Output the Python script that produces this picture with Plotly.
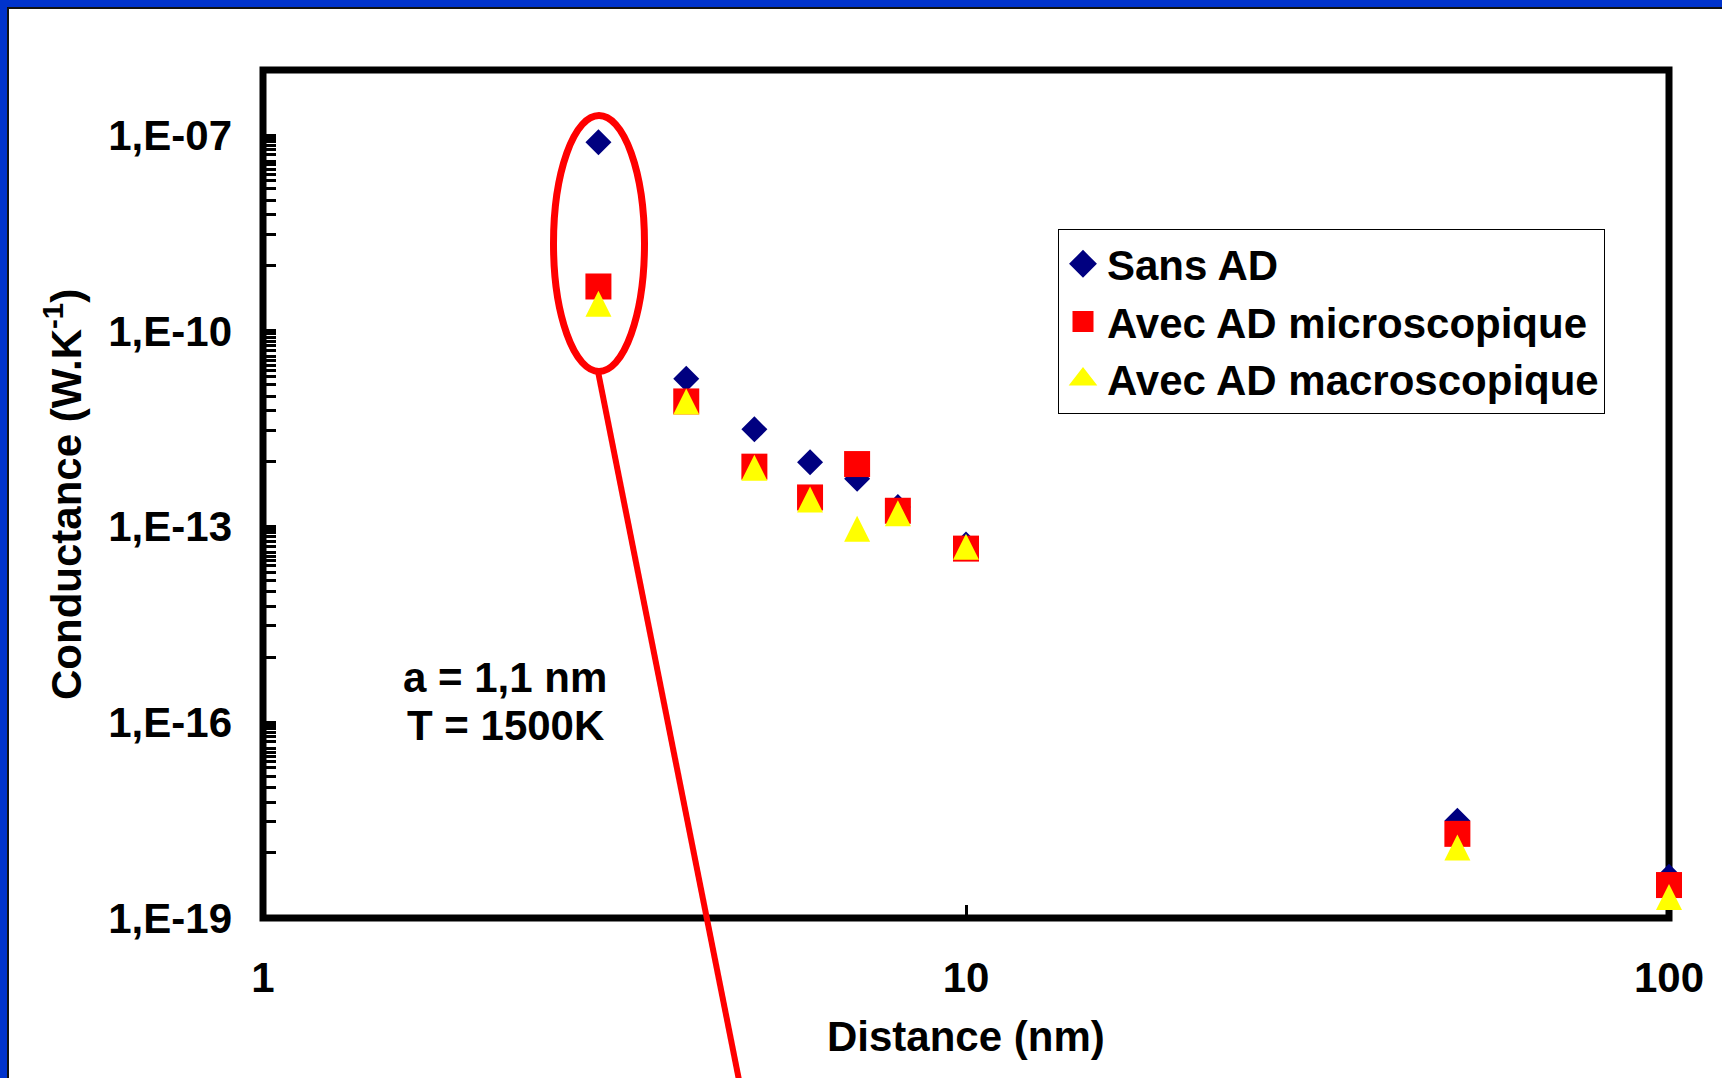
import plotly.graph_objects as go

# ---------------- data ----------------
distance_nm = [3, 4, 5, 6, 7, 8, 10, 50, 100]
sans_ad = [7.8e-8, 1.85e-11, 3.1e-12, 9.7e-13, 5.4e-13, 2.0e-13, 5.3e-14, 3.1e-18, 4.3e-19]
avec_ad_micro = [4.8e-10, 8.3e-12, 8.3e-13, 2.8e-13, 9.1e-13, 1.75e-13, 4.6e-14, 1.95e-18, 3.2e-19]
avec_ad_macro = [2.6e-10, 8.3e-12, 8.0e-13, 2.6e-13, 9.3e-14, 1.6e-13, 4.9e-14, 1.2e-18, 2.1e-19]

series_names = ["Sans AD", "Avec AD microscopique", "Avec AD macroscopique"]

x_tick_vals = [1, 10, 100]
x_tick_text = ["1", "10", "100"]
y_tick_vals = [1e-19, 1e-16, 1e-13, 1e-10, 1e-7]
y_tick_text = ["1,E-19", "1,E-16", "1,E-13", "1,E-10", "1,E-07"]
y_major_decades = [-19, -16, -13, -10]
y_minor_multipliers = [10, 30, 60, 100, 150, 200, 250, 300, 350, 400, 500, 600, 700, 800, 900]

annotation_lines = ["a = 1,1 nm", "T = 1500K"]
x_title = "Distance (nm)"
y_title = "Conductance (W.K<sup>-1</sup>)"

# ---------------- layout helpers ----------------
W, H = 1722, 1078
L, R, T, B = 263, 1669, 70, 918


def px(X):
    return (X - L) / (R - L)


def py(Y):
    return (B - Y) / (B - T)


FONT = "Liberation Sans, Arial, sans-serif"
NAVY = "#000080"
RED = "#FF0000"
YELLOW = "#FFFF00"
BLUE_BORDER = "#0033CC"

minor_vals = [m * 10.0 ** d for d in y_major_decades for m in y_minor_multipliers]

fig = go.Figure()
# data markers (drawn in this order: diamonds, squares, triangles on top)
fig.add_trace(go.Scatter(
    x=distance_nm, y=sans_ad, mode="markers", name=series_names[0], cliponaxis=False,
    showlegend=False, legendgroup="a",
    marker=dict(symbol="diamond", size=20, color=NAVY, line=dict(width=0)),
))
fig.add_trace(go.Scatter(
    x=distance_nm, y=avec_ad_micro, mode="markers", name=series_names[1], cliponaxis=False,
    showlegend=False, legendgroup="b",
    marker=dict(symbol="square", size=26, color=RED, line=dict(width=0)),
))
fig.add_trace(go.Scatter(
    x=distance_nm, y=avec_ad_macro, mode="markers", name=series_names[2], cliponaxis=False,
    showlegend=False, legendgroup="c",
    marker=dict(symbol="arrow-down", angle=180, standoff=13, size=26, color=YELLOW,
                line=dict(width=0)),
))

# legend entries (same series, symbols enlarged with a same-colour outline)
legend_symbols = ["diamond", "square", "triangle-up"]
legend_colors = [NAVY, RED, YELLOW]
for name, sym, col, grp in zip(series_names, legend_symbols, legend_colors, ["a", "b", "c"]):
    fig.add_trace(go.Scatter(
        x=[None], y=[None], mode="markers", name=name, legendgroup=grp, showlegend=True,
        marker=dict(symbol=sym, size=16, color=col, line=dict(width=5, color=col)),
    ))

shapes = [
    # plot frame
    dict(type="rect", xref="paper", yref="paper", x0=0, x1=1, y0=0, y1=1,
         line=dict(color="black", width=7), fillcolor="rgba(0,0,0,0)", layer="below"),
    # blue slide border (top & left)
    dict(type="rect", xref="paper", yref="paper", x0=px(0), x1=px(W), y0=py(0), y1=py(7),
         line=dict(width=0), fillcolor=BLUE_BORDER, layer="above"),
    dict(type="rect", xref="paper", yref="paper", x0=px(0), x1=px(7), y0=py(0), y1=py(H),
         line=dict(width=0), fillcolor=BLUE_BORDER, layer="above"),
    dict(type="line", xref="paper", yref="paper", x0=px(7), x1=px(W), y0=py(8), y1=py(8),
         line=dict(color="#111111", width=2), layer="above"),
    dict(type="line", xref="paper", yref="paper", x0=px(8), x1=px(8), y0=py(7), y1=py(H),
         line=dict(color="#111111", width=2), layer="above"),
    # red ellipse and pointer line
    dict(type="circle", xref="paper", yref="paper", x0=px(553.5), x1=px(644.5),
         y0=py(371.5), y1=py(115.5), line=dict(color=RED, width=7), layer="above"),
    dict(type="line", xref="paper", yref="paper", x0=px(598), y0=py(371.5),
         x1=px(740), y1=py(1085), line=dict(color=RED, width=6), layer="above"),
]

annotations = [
    dict(text=x_title, xref="paper", yref="paper", x=px(966), y=py(1036),
         xanchor="center", yanchor="middle", showarrow=False,
         font=dict(family=FONT, size=42, color="black", weight="bold")),
    dict(text=y_title, xref="paper", yref="paper", x=px(63), y=py(495), textangle=-90,
         xanchor="center", yanchor="middle", showarrow=False,
         font=dict(family=FONT, size=42, color="black", weight="bold")),
    dict(text=annotation_lines[0], xref="paper", yref="paper", x=px(505), y=py(677),
         xanchor="center", yanchor="middle", showarrow=False,
         font=dict(family=FONT, size=42, color="black", weight="bold")),
    dict(text=annotation_lines[1], xref="paper", yref="paper", x=px(505), y=py(725),
         xanchor="center", yanchor="middle", showarrow=False,
         font=dict(family=FONT, size=42, color="black", weight="bold")),
]

fig.update_layout(
    width=W, height=H, autosize=False,
    margin=dict(l=L, r=W - R, t=T, b=H - B, pad=0, autoexpand=False),
    paper_bgcolor="white", plot_bgcolor="white",
    font=dict(family=FONT, size=42, color="black", weight="bold"),
    shapes=shapes, annotations=annotations,
    showlegend=True,
    legend=dict(
        x=px(1058), y=py(229), xanchor="left", yanchor="top",
        bgcolor="white", bordercolor="black", borderwidth=1,
        font=dict(family=FONT, size=42, color="black", weight="bold"),
        itemwidth=38, tracegroupgap=0, traceorder="normal",
    ),
    xaxis=dict(
        type="log", range=[0, 2], showgrid=False, zeroline=False, showline=False,
        tickmode="array", tickvals=x_tick_vals, ticktext=x_tick_text,
        ticks="inside", ticklen=13, tickwidth=3, tickcolor="black",
        tickfont=dict(family=FONT, size=42, color="black", weight="bold"),
        ticklabelstandoff=31, automargin=False,
    ),
    yaxis=dict(
        type="log", range=[-19, -6], showgrid=False, zeroline=False, showline=False,
        tickmode="array", tickvals=y_tick_vals, ticktext=y_tick_text,
        ticks="inside", ticklen=13, tickwidth=3, tickcolor="black",
        tickfont=dict(family=FONT, size=42, color="black", weight="bold"),
        ticklabelstandoff=30, automargin=False,
        minor=dict(tickmode="array", tickvals=minor_vals, ticks="inside",
                   ticklen=13, tickwidth=3, tickcolor="black", showgrid=False),
    ),
)

fig.write_html("out.html")
